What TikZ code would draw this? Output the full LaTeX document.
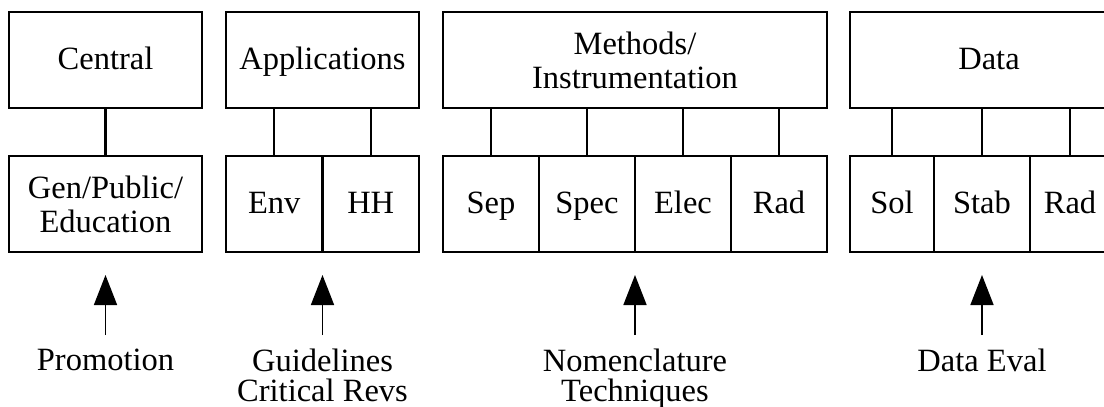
\documentclass[tikz,border=0pt]{standalone}
\usepackage{fontspec}
\setmainfont{Liberation Serif}
\usetikzlibrary{arrows.meta,positioning}
\tikzset{
  box/.style={draw, line width=2.2pt, inner sep=0pt, outer sep=0pt,
    minimum height=96pt, align=center},
  onebox/.style={box, text height=24pt, text depth=5pt},
  lbl/.style={inner sep=14pt, align=center, font=\fontsize{32.5}{29.5}\selectfont},
  link/.style={line width=2.2pt},
  uparrow/.style={line width=1.6pt, -{Triangle[length=30pt,width=23pt]},
    shorten >=23pt}
}
\begin{document}
\begin{tikzpicture}[x=1pt,y=-1pt]
  \fontsize{32.5}{34}\selectfont
  \useasboundingbox (0,0) rectangle (1104,407);
  \clip (0,0) rectangle (1104,407);
  \node [onebox, minimum width=193pt] (central) at (105.5,60) {Central};
  \node [onebox, minimum width=193pt] (apps) at (322.5,60) {Applications};
  \node [box, minimum width=384pt] (meth) at (635,60) {Methods/\\Instrumentation};
  \node [onebox, minimum width=278pt] (data) at (989,60) {Data};
  \node [box, minimum width=193pt] (gen) at (105.5,204) {Gen/Public/\\Education};
  \node [onebox, minimum width=96.5pt] (env) at (274.25,204) {Env};
  \node [onebox, minimum width=96.5pt] (hh) at (370.75,204) {HH};
  \foreach \name/\txt [count=\i from 0] in {sep/Sep,spec/Spec,elec/Elec,rad/Rad}
    \node [onebox, minimum width=96pt] (\name) at (491+\i*96,204) {\txt};
  \node [onebox, minimum width=84pt] (sol) at (892,204) {Sol};
  \node [onebox, minimum width=96pt] (stab) at (982,204) {Stab};
  \node [onebox, minimum width=80pt] (raddata) at (1070,204) {Rad};
  \foreach \b/\t in {gen/central,env/apps,hh/apps,sep/meth,spec/meth,elec/meth,
      rad/meth,sol/data,stab/data,raddata/data}
    \draw [link] (\b.north) -- (\b.north |- \t.south);
  \node [lbl, below=83pt of gen] (promo) {Promotion};
  \node [lbl, below=83pt of env.south east] (guide) {Guidelines\\Critical Revs};
  \node [lbl, below=83pt of spec.south east] (nomen) {Nomenclature\\Techniques};
  \node [lbl, below=83pt of stab] (eval) {Data Eval};
  \draw [uparrow] (promo.north) -- (gen.south);
  \draw [uparrow] (guide.north) -- (env.south east);
  \draw [uparrow] (nomen.north) -- (spec.south east);
  \draw [uparrow] (eval.north) -- (stab.south);
\end{tikzpicture}
\end{document}
